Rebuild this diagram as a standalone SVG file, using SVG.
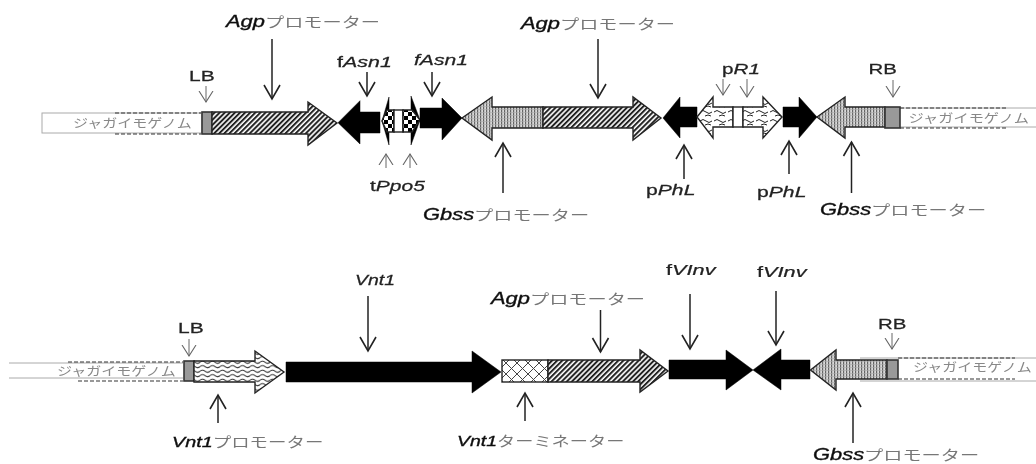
<svg xmlns="http://www.w3.org/2000/svg" width="1036" height="464" viewBox="0 0 1036 464">
<style>
.el{stroke:#222;stroke-width:1.4;stroke-linejoin:miter}
.blk{fill:#000;stroke:#000;stroke-width:.5}
.gb{fill:#999;stroke:#333;stroke-width:1.6}
.g{fill:#fff;stroke:#aaa;stroke-width:1}
.gl{stroke:#aaa;stroke-width:1;fill:none}
.d{stroke:#333;stroke-width:1.1;stroke-dasharray:4 2;fill:none}
.a{stroke:#222;stroke-width:1.5;fill:none;marker-end:url(#ah)}
.s{stroke:#666;stroke-width:1;fill:none;marker-end:url(#as)}
text{font-family:"Liberation Sans","Noto Sans CJK JP",sans-serif;font-size:15px;fill:#222;stroke:#222;stroke-width:.25}
.i{font-style:italic}
.k{font-family:"Noto Sans CJK JP","Liberation Sans",sans-serif;font-size:14px;fill:#777;font-style:normal;stroke:none}
.m{font-family:"Noto Sans CJK JP","Liberation Sans",sans-serif;font-size:12px;fill:#888;stroke:none}
.b{font-size:16px;font-style:italic;fill:#111;stroke:#111;stroke-width:.35}
</style>
<defs>
<marker id="ah" markerUnits="userSpaceOnUse" markerWidth="20" markerHeight="20" refX="15" refY="9" orient="auto" viewBox="0 0 20 18"><path d="M1 1L15 9L1 17" fill="none" stroke="#222" stroke-width="1.6"/></marker>
<marker id="as" markerUnits="userSpaceOnUse" markerWidth="16" markerHeight="18" refX="11" refY="8" orient="auto" viewBox="0 0 16 16"><path d="M0 1L11 8L0 15" fill="none" stroke="#666" stroke-width="1.1"/></marker>
<pattern id="hatch" width="3.6" height="3.6" patternUnits="userSpaceOnUse" patternTransform="rotate(-45)"><rect width="3.6" height="3.6" fill="#fff"/><rect width="3.6" height="2" fill="#222"/></pattern>
<pattern id="stripe" width="3" height="3" patternUnits="userSpaceOnUse"><rect width="3" height="3" fill="#d8d8d8"/><rect width="1.2" height="3" fill="#666"/><rect y="1" width="3" height=".6" fill="#aaa"/></pattern>
<pattern id="check" width="8" height="8" patternUnits="userSpaceOnUse"><rect width="8" height="8" fill="#fff"/><rect width="4" height="4" fill="#000"/><rect x="4" y="4" width="4" height="4" fill="#000"/></pattern>
<pattern id="wave" width="10" height="4.5" patternUnits="userSpaceOnUse"><rect width="10" height="4.5" fill="#fff"/><path d="M0 2.2Q2.5 0 5 2.2T10 2.2" fill="none" stroke="#222" stroke-width="1"/></pattern>
<pattern id="flake" width="14" height="9" patternUnits="userSpaceOnUse"><rect width="14" height="9" fill="#fff"/><path d="M0 4Q3 1 6 4T12 4M5 8Q8 6 11 8" fill="none" stroke="#222" stroke-width="1"/></pattern>
<pattern id="cross" width="11" height="11" patternUnits="userSpaceOnUse"><rect width="11" height="11" fill="#fff"/><path d="M0 0L11 11M11 0L0 11" stroke="#444" stroke-width="1"/></pattern>
<filter id="soft" x="0" y="0" width="100%" height="100%"><feGaussianBlur stdDeviation="0.35"/></filter>
</defs>
<rect width="1036" height="464" fill="#fff"/>
<g filter="url(#soft)">
<g id="connectors">
<line class="a" x1="272" y1="39" x2="272" y2="99"/>
<line class="s" x1="206" y1="86" x2="206" y2="102"/>
<line class="a" x1="367" y1="72" x2="367" y2="96"/>
<line class="a" x1="432" y1="72" x2="432" y2="96"/>
<line class="s" x1="386" y1="168" x2="386" y2="154"/>
<line class="s" x1="410" y1="168" x2="410" y2="154"/>
<line class="a" x1="503" y1="193" x2="503" y2="143"/>
<line class="a" x1="598" y1="39" x2="598" y2="98"/>
<line class="s" x1="723" y1="79" x2="723" y2="95"/>
<line class="s" x1="747" y1="79" x2="747" y2="97"/>
<line class="s" x1="893" y1="80" x2="893" y2="97"/>
<line class="a" x1="684" y1="179" x2="684" y2="145"/>
<line class="a" x1="789" y1="174" x2="789" y2="141"/>
<line class="a" x1="851.5" y1="193" x2="851.5" y2="142"/>
<line class="s" x1="189" y1="339" x2="189" y2="356"/>
<line class="a" x1="368" y1="296" x2="368" y2="351"/>
<line class="a" x1="218" y1="423" x2="218" y2="395"/>
<line class="a" x1="525" y1="421" x2="525" y2="393"/>
<line class="a" x1="600.5" y1="310" x2="600.5" y2="352"/>
<line class="a" x1="690" y1="294" x2="690" y2="349"/>
<line class="a" x1="776" y1="291" x2="776" y2="345"/>
<line class="s" x1="892" y1="333" x2="892" y2="349"/>
<line class="a" x1="853" y1="443" x2="853" y2="393"/>
</g>
<g id="genome-top-left"><rect class="g" x="42" y="113" width="160" height="20"/><path class="d" d="M115 113H201M115 134H201"/><text class="m" transform="translate(73 128) scale(1.25 1)">ジャガイモゲノム</text></g>
<g id="lb-top"><rect class="gb" x="202" y="112" width="10" height="22"/><text transform="translate(189 80.6) scale(1.4 1)">LB</text></g>
<g id="agp-top-1"><polygon class="el" fill="url(#hatch)" points="212,112 308,112 308,102 337,123 308,145 308,134 212,134"/><text transform="translate(226 27) scale(1.37 1)"><tspan class="b">Agp</tspan><tspan class="k">プロモーター</tspan></text></g>
<g id="fasn-top-1"><polygon class="blk" points="338,122.7 360,100.7 360,112 380,112 380,133 360,133 360,144"/><text class="i" transform="translate(337 66.7) scale(1.43 1)"><tspan style="font-style:normal">f</tspan>Asn1</text></g>
<g id="tppo5"><polygon class="blk" points="382,121 389,97 389,145"/><polygon class="blk" points="411,96 420,120 411,145"/><polygon class="el" fill="url(#check)" points="394,110 387,110 382,121 387,132 394,132"/><rect class="el" fill="#fff" x="394" y="110" width="9" height="22"/><polygon class="el" fill="url(#check)" points="403,110 412,110 420,120 412,132 403,132"/><text class="i" transform="translate(370 190.7) scale(1.4 1)"><tspan style="font-style:normal">t</tspan>Ppo5</text></g>
<g id="fasn-top-2"><polygon class="blk" points="420,108 442,108 442,98 462,118 442,140 442,128 420,128"/><text class="i" transform="translate(414 65) scale(1.41 1)">fAsn1</text></g>
<g id="gbss-top-1"><polygon class="el" fill="url(#stripe)" points="462,118 492,97 492,107 543,107 543,128 492,128 492,140"/><text transform="translate(423 220) scale(1.37 1)"><tspan class="b">Gbss</tspan><tspan class="k">プロモーター</tspan></text></g>
<g id="agp-top-2"><polygon class="el" fill="url(#hatch)" points="543,107 633,107 633,97 661,118 633,140 633,128 543,128"/><text transform="translate(521 29) scale(1.37 1)"><tspan class="b">Agp</tspan><tspan class="k">プロモーター</tspan></text></g>
<g id="pphl-top-1"><polygon class="blk" points="663,118 680,97 680,107 697,107 697,127 680,127 680,138"/><text class="i" transform="translate(646 195) scale(1.41 1)"><tspan style="font-style:normal">p</tspan>PhL</text></g>
<g id="pr1"><polygon class="el" fill="url(#flake)" points="697,117 713,97 713,107 733,107 733,127 713,127 713,138"/><rect class="el" fill="#fff" x="733" y="107" width="10" height="20"/><polygon class="el" fill="url(#flake)" points="743,107 763,107 763,97 782,117 763,138 763,127 743,127"/><text class="i" transform="translate(722 74) scale(1.38 1)"><tspan style="font-style:normal">p</tspan>R1</text></g>
<g id="pphl-top-2"><polygon class="blk" points="783,107 799,107 799,97 817,117 799,138 799,127 783,127"/><text class="i" transform="translate(757 197) scale(1.41 1)"><tspan style="font-style:normal">p</tspan>PhL</text></g>
<g id="gbss-top-2"><polygon class="el" fill="url(#stripe)" points="817,117 845,97 845,107 885,107 885,127 845,127 845,138"/><text transform="translate(820 215) scale(1.37 1)"><tspan class="b">Gbss</tspan><tspan class="k">プロモーター</tspan></text></g>
<g id="genome-top-right"><path class="gl" d="M900 108H1036M900 127H1036"/><path class="d" d="M900 108H1006M900 128H1006"/><text class="m" transform="translate(908.5 123) scale(1.27 1)">ジャガイモゲノム</text></g>
<g id="rb-top"><rect class="gb" x="885" y="107" width="15" height="21"/><text transform="translate(868.5 74) scale(1.36 1)">RB</text></g>

<g id="genome-bottom-left"><path class="gl" d="M9 363H183M9 378H183"/><path class="d" d="M68 362H183M78 381H183"/><text class="m" transform="translate(57 376) scale(1.25 1)">ジャガイモゲノム</text></g>
<g id="lb-bottom"><rect class="gb" x="184" y="361" width="10" height="20"/><text transform="translate(178 333) scale(1.4 1)">LB</text></g>
<g id="vnt1-promoter"><polygon class="el" fill="url(#wave)" points="194,361 255,361 255,351 284,372 255,393 255,382 194,382"/><text transform="translate(172 447) scale(1.32 1)"><tspan class="b" style="font-size:15px">Vnt1</tspan><tspan class="k">プロモーター</tspan></text></g>
<g id="vnt1"><polygon class="blk" points="286,362 472,362 472,351 501,372 472,393 472,382 286,382"/><text class="i" transform="translate(355 285) scale(1.3 1)">Vnt1</text></g>
<g id="vnt1-terminator"><rect class="el" fill="url(#cross)" x="502" y="360" width="46" height="22"/><text transform="translate(457 446) scale(1.3 1)"><tspan class="b" style="font-size:15px">Vnt1</tspan><tspan class="k">ターミネーター</tspan></text></g>
<g id="agp-bottom"><polygon class="el" fill="url(#hatch)" points="548,360 640,360 640,350 668,371 640,392 640,382 548,382"/><text transform="translate(491 304) scale(1.37 1)"><tspan class="b">Agp</tspan><tspan class="k">プロモーター</tspan></text></g>
<g id="fvinv-1"><polygon class="blk" points="669,360 726,360 726,350 753,370 726,390 726,379 669,379"/><text class="i" transform="translate(666 275) scale(1.45 1)"><tspan style="font-style:normal">f</tspan>VInv</text></g>
<g id="fvinv-2"><polygon class="blk" points="753,370 781,349 781,360 810,360 810,379 781,379 781,390"/><text class="i" transform="translate(757 277) scale(1.45 1)"><tspan style="font-style:normal">f</tspan>VInv</text></g>
<g id="genome-bottom-right"><path class="gl" d="M860 358H1036M860 381H1036"/><path class="d" d="M898 358H1015M898 379H1015"/><text class="m" transform="translate(913 372) scale(1.25 1)">ジャガイモゲノム</text></g>
<g id="gbss-bottom"><polygon class="el" fill="url(#stripe)" points="810.5,370 836,350 836,360 887,360 887,379 836,379 836,390"/><text transform="translate(813 459.5) scale(1.37 1)"><tspan class="b">Gbss</tspan><tspan class="k">プロモーター</tspan></text></g>
<g id="rb-bottom"><rect class="gb" x="887" y="360" width="11" height="19"/><text transform="translate(878 329) scale(1.36 1)">RB</text></g>
</g>
</svg>
